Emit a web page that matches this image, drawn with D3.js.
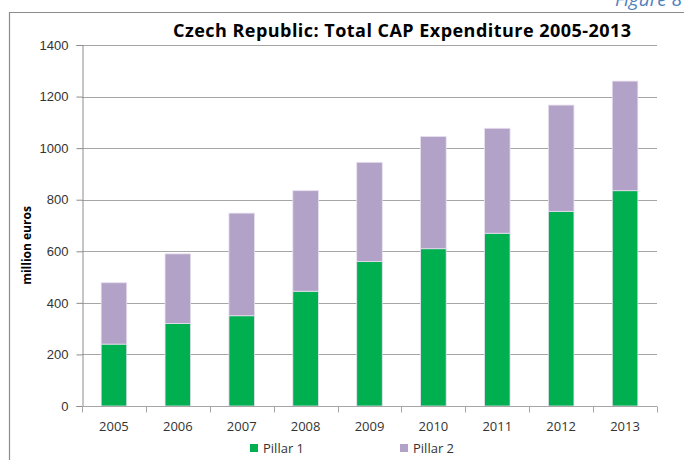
<!DOCTYPE html>
<html>
<head>
<meta charset="utf-8">
<script src="https://cdn.jsdelivr.net/npm/d3@7"></script>
<style>
  body { margin: 0; background: #fff; }
  svg { display: block; font-family: 'Open Sans', 'DejaVu Sans', sans-serif; }
</style>
</head>
<body>
<svg width="684" height="460"></svg>
<script>
const width = 684;
const height = 460;

const years = ['2005', '2006', '2007', '2008', '2009', '2010', '2011', '2012', '2013'];
const pillar1 = [240, 320, 350, 445, 560, 610, 670, 755, 835];
const pillar2 = [238, 270, 398, 390, 385, 435, 407, 412, 425];
const seriesNames = ['Pillar 1', 'Pillar 2'];
const seriesColors = ['#00af50', '#b3a2c7'];
const yTicks = [0, 200, 400, 600, 800, 1000, 1200, 1400];

const margin = { left: 82, right: 27, top: 45, bottom: 54 };

const renderChart = () => {
    const svg = d3.select('svg');

    // outer frame (top + left edges visible)
    svg.append('path')
        .attr('d', `M9.5,${height} V12.5 H${width}`)
        .attr('fill', 'none')
        .attr('stroke', '#8c8c8c')
        .attr('stroke-width', 1.2);

    svg.append('text')
        .attr('x', 682)
        .attr('y', 6)
        .attr('text-anchor', 'end')
        .style('font-style', 'italic')
        .style('font-size', '19px')
        .style('fill', '#4f81bd')
        .text('Figure 8');

    const x = d3.scaleBand()
        .domain(years)
        .range([margin.left, width - margin.right])
        .paddingInner(0.6)
        .paddingOuter(0.3);

    const y = d3.scaleLinear()
        .domain([0, 1400])
        .range([height - margin.bottom, margin.top]);

    // gridlines
    svg.append('g')
        .selectAll('line')
        .data(yTicks.slice(1))
        .enter().append('line')
        .attr('x1', margin.left)
        .attr('x2', width - margin.right)
        .attr('y1', d => Math.round(y(d)) + 0.5)
        .attr('y2', d => Math.round(y(d)) + 0.5)
        .attr('stroke', '#a6a6a6')
        .attr('stroke-width', 1.2);

    // stacked bars
    const rows = years.map((yr, i) => ({ year: yr, 'Pillar 1': pillar1[i], 'Pillar 2': pillar2[i] }));
    const stacked = d3.stack().keys(seriesNames)(rows);

    svg.append('g')
        .selectAll('g')
        .data(stacked)
        .enter().append('g')
        .attr('fill', (d, i) => seriesColors[i])
        .selectAll('rect')
        .data(d => d)
        .enter().append('rect')
        .attr('x', d => x(d.data.year))
        .attr('width', x.bandwidth())
        .attr('y', d => y(d[1]))
        .attr('height', d => y(d[0]) - y(d[1]))
        .attr('stroke', '#e6e0ee')
        .attr('stroke-width', 0.8);

    // y axis
    const yAxis = svg.append('g')
        .attr('transform', `translate(${margin.left + 0.5},0)`)
        .call(d3.axisLeft(y).tickValues(yTicks).tickFormat(d3.format('d')).tickSize(6).tickPadding(8));
    yAxis.selectAll('path, line').attr('stroke', '#8c8c8c');
    yAxis.selectAll('text')
        .style('font-size', '13px')
        .style('fill', '#333');

    // x axis with ticks at category boundaries
    const xAxisY = Math.round(y(0)) + 0.5;
    svg.append('line')
        .attr('x1', margin.left)
        .attr('x2', width - margin.right)
        .attr('y1', xAxisY)
        .attr('y2', xAxisY)
        .attr('stroke', '#a6a6a6')
        .attr('stroke-width', 1.2);

    const bounds = d3.range(years.length + 1).map(i => margin.left + i * (width - margin.left - margin.right) / years.length);
    svg.append('g')
        .selectAll('line')
        .data(bounds)
        .enter().append('line')
        .attr('x1', d => Math.round(d) + 0.5)
        .attr('x2', d => Math.round(d) + 0.5)
        .attr('y1', xAxisY)
        .attr('y2', xAxisY + 6)
        .attr('stroke', '#a6a6a6');

    svg.append('g')
        .selectAll('text')
        .data(years)
        .enter().append('text')
        .attr('x', d => x(d) + x.bandwidth() / 2)
        .attr('y', xAxisY + 24)
        .attr('text-anchor', 'middle')
        .style('font-size', '13px')
        .style('fill', '#333')
        .text(d => d);

    // y label
    svg.append('text')
        .attr('transform', `translate(31,${(y(0) + y(1400)) / 2 + 20}) rotate(-90)`)
        .attr('text-anchor', 'middle')
        .style('font-size', '12px')
        .style('font-weight', 'bold')
        .style('fill', '#000')
        .text('million euros');

    // title
    svg.append('text')
        .attr('x', 402)
        .attr('y', 37)
        .attr('text-anchor', 'middle')
        .attr('textLength', 458)
        .attr('lengthAdjust', 'spacing')
        .style('font-size', '18px')
        .style('font-weight', 'bold')
        .style('fill', '#000')
        .text('Czech Republic: Total CAP Expenditure 2005-2013');

    // legend
    const legendX = [250, 400];
    const legend = svg.append('g')
        .selectAll('g')
        .data(seriesNames)
        .enter().append('g')
        .attr('transform', (d, i) => `translate(${legendX[i]},444)`);
    legend.append('rect')
        .attr('width', 8)
        .attr('height', 8)
        .attr('fill', (d, i) => seriesColors[i]);
    legend.append('text')
        .attr('x', 13)
        .attr('y', 9)
        .style('font-size', '13px')
        .style('fill', '#333')
        .text(d => d);
};

document.addEventListener('DOMContentLoaded', () => {
    renderChart();
});
</script>
</body>
</html>
